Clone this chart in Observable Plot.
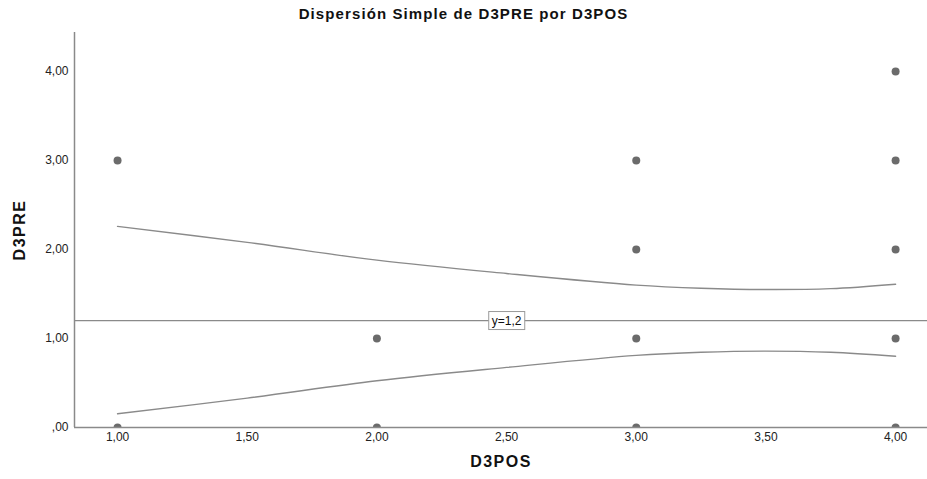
<!DOCTYPE html>
<html>
<head>
<meta charset="utf-8">
<script src="https://cdn.jsdelivr.net/npm/d3@7"></script>
<script src="https://cdn.jsdelivr.net/npm/@observablehq/plot@0.6"></script>
<style>
  html, body { margin: 0; padding: 0; background: #fff; }
  #wrap { position: relative; width: 927px; height: 479px; font-family: "Liberation Sans", Arial, sans-serif; }
  #title { position: absolute; top: 5px; left: 0; width: 927px; text-align: center; font-size: 15px; font-weight: bold; color: #111; letter-spacing: 1.1px; }
</style>
</head>
<body>
<div id="wrap">
  <div id="title">Dispersión Simple de D3PRE por D3POS</div>
</div>
<script>
// Data points (D3POS, D3PRE)
const d3pos = [1, 1, 2, 2, 3, 3, 3, 3, 4, 4, 4, 4, 4];
const d3pre = [3, 0, 1, 0, 3, 2, 1, 0, 4, 3, 2, 1, 0];

// Curves
const curveX     = [1, 1.5, 2, 2.5, 3, 3.25, 3.5, 3.75, 4];
const upperCurve = [2.26, 2.08, 1.88, 1.73, 1.60, 1.565, 1.55, 1.56, 1.61];
const lowerCurve = [0.154, 0.33, 0.525, 0.675, 0.81, 0.845, 0.858, 0.845, 0.80];

// Reference line
const refY = [1.2];
const refLabel = ["y=1,2"];
const refLabelX = [2.5];

// Ticks
const xTicks = [1, 1.5, 2, 2.5, 3, 3.5, 4];
const yTicks = [0, 1, 2, 3, 4];
const xDomain = [0.834, 4.123];
const yDomain = [0, 4.438];

const fmt = d => d === 0 ? ",00" : d.toFixed(2).replace(".", ",");

const points = d3pos.map((x, i) => ({x, y: d3pre[i]}));
const upper = curveX.map((x, i) => ({x, y: upperCurve[i]}));
const lower = curveX.map((x, i) => ({x, y: lowerCurve[i]}));
const labels = refLabel.map((t, i) => ({x: refLabelX[i], y: refY[i], t}));

const grey = "#8a8a8a";

const chart = Plot.plot({
  width: 927,
  height: 479,
  marginLeft: 74,
  marginRight: 0,
  marginTop: 32,
  marginBottom: 52,
  style: {fontFamily: "'Liberation Sans', Arial, sans-serif", fontSize: "12px", color: "#222", background: "transparent"},
  x: {domain: xDomain, ticks: xTicks, tickFormat: fmt},
  y: {domain: yDomain, ticks: yTicks, tickFormat: fmt},
  marks: [
    Plot.ruleY(refY, {stroke: grey, strokeWidth: 1.3}),
    Plot.line(upper, {x: "x", y: "y", curve: "catmull-rom", stroke: grey, strokeWidth: 1.4}),
    Plot.line(lower, {x: "x", y: "y", curve: "catmull-rom", stroke: grey, strokeWidth: 1.4}),
    Plot.dot(points, {x: "x", y: "y", r: 4, fill: "#6b6b6b", stroke: "none", clip: true}),
    Plot.ruleY([yDomain[0]], {stroke: grey, strokeWidth: 1.5}),
    Plot.ruleX([xDomain[0]], {stroke: grey, strokeWidth: 1.5}),
    Plot.axisX({ticks: xTicks, tickFormat: fmt, tickSize: 0, tickPadding: 5, fontSize: 12, label: null}),
    Plot.axisY({ticks: yTicks, tickFormat: fmt, tickSize: 0, tickPadding: 6, fontSize: 12, label: null}),
    Plot.text(["D3POS"], {frameAnchor: "bottom", textAnchor: "middle", dy: 39, fontSize: 16, fontWeight: "bold", fill: "#111", style: "letter-spacing:1.5px"}),
    Plot.text(["D3PRE"], {frameAnchor: "left", textAnchor: "middle", dx: -55, rotate: -90, fontSize: 16, fontWeight: "bold", fill: "#111"}),
    Plot.text(labels, {x: "x", y: "y", text: "t", fontSize: 12, fill: "#111", className: "reflabel"})
  ]
});

document.getElementById("wrap").appendChild(chart);
chart.style.position = "absolute";
chart.style.left = "0";
chart.style.top = "0";

// letter spacing for axis titles
chart.querySelectorAll("text").forEach(t => {
  if (t.textContent === "D3POS" || t.textContent === "D3PRE") t.setAttribute("letter-spacing", "1.5");
});

// Box behind the reference label
document.querySelectorAll(".reflabel text").forEach(t => {
  const b = t.getBBox();
  const rect = document.createElementNS("http://www.w3.org/2000/svg", "rect");
  rect.setAttribute("x", b.x - 3);
  rect.setAttribute("y", b.y - 2);
  rect.setAttribute("width", b.width + 6);
  rect.setAttribute("height", b.height + 4);
  rect.setAttribute("fill", "#fff");
  rect.setAttribute("stroke", "#9a9a9a");
  rect.setAttribute("stroke-width", "1");
  const tr = t.getAttribute("transform");
  if (tr) rect.setAttribute("transform", tr);
  t.parentNode.insertBefore(rect, t);
});
</script>
</body>
</html>
